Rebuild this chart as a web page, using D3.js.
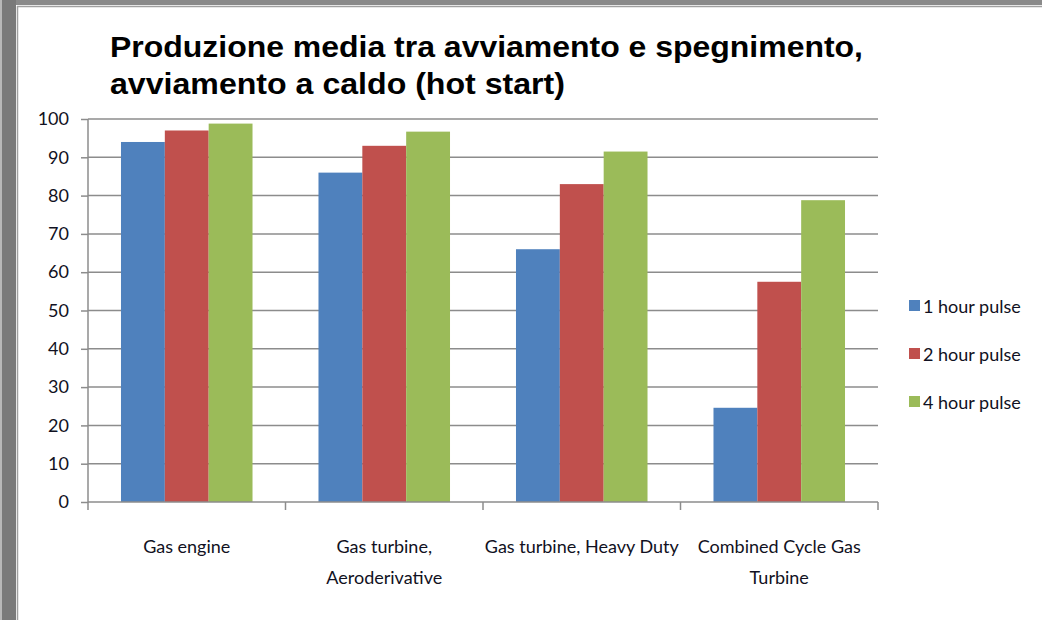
<!DOCTYPE html>
<meta charset="utf-8">
<script src="https://d3js.org/d3.v7.min.js"></script>
<style>
  body { margin: 0; background: #fff; }
</style>
<div id="chart"></div>
<script>

  // data
  var categories = ["Gas engine", "Gas turbine, Aeroderivative", "Gas turbine, Heavy Duty", "Combined Cycle Gas Turbine"];
  var seriesNames = ["1 hour pulse", "2 hour pulse", "4 hour pulse"];
  var pulse1 = [94, 86, 66, 24.6];
  var pulse2 = [97, 93, 83, 57.5];
  var pulse3 = [98.8, 96.7, 91.5, 78.8];
  var yTicks = [0, 10, 20, 30, 40, 50, 60, 70, 80, 90, 100];
  var colors = ["#4f81bd", "#c0504d", "#9bbb59"];

  var series = [pulse1, pulse2, pulse3];

  var W = 1042, H = 620;
  var margin = {top: 119, right: 164, bottom: 118, left: 88},
      width = W - margin.left - margin.right,
      height = H - margin.top - margin.bottom;

  var svg = d3.select("#chart")
    .append("svg")
      .attr("width", W)
      .attr("height", H);

  // window frame of the screenshot
  svg.append("rect").attr("x", 0).attr("y", 0).attr("width", W).attr("height", 5).attr("fill", "#8a8a8a");
  svg.append("rect").attr("x", 0).attr("y", 0).attr("width", 16).attr("height", H).attr("fill", "#7a7a7a");
  svg.append("rect").attr("x", 0).attr("y", 0).attr("width", 2).attr("height", H).attr("fill", "#b8b8b8");
  svg.append("line").attr("x1", 17.5).attr("x2", 17.5).attr("y1", 6).attr("y2", H)
    .attr("stroke", "#a0a0a0").attr("stroke-width", 1.5);
  svg.append("line").attr("x1", 17).attr("x2", W).attr("y1", 6.5).attr("y2", 6.5)
    .attr("stroke", "#a0a0a0").attr("stroke-width", 1.5);

  // title (narrow bold Arial look)
  var title = svg.append("text")
    .style("font-family", "'Liberation Sans', Arial, sans-serif")
    .style("font-weight", "bold")
    .style("font-size", "30px")
    .attr("fill", "#000");
  title.append("tspan").attr("x", 110).attr("y", 57)
    .attr("textLength", 753).attr("lengthAdjust", "spacingAndGlyphs")
    .text("Produzione media tra avviamento e spegnimento,");
  title.append("tspan").attr("x", 110).attr("y", 94)
    .attr("textLength", 455).attr("lengthAdjust", "spacingAndGlyphs")
    .text("avviamento a caldo (hot start)");

  var g = svg.append("g")
    .attr("transform", "translate(" + margin.left + "," + margin.top + ")");

  // scales
  var x0 = d3.scaleBand()
    .domain(categories)
    .range([0, width])
    .paddingInner(0)
    .paddingOuter(0);

  var x1 = d3.scaleBand()
    .domain(d3.range(series.length))
    .range([x0.bandwidth() * 0.167, x0.bandwidth() * 0.833]);

  var y = d3.scaleLinear()
    .domain([0, 100])
    .range([height, 0]);

  // gridlines
  g.append("g")
    .selectAll("line")
    .data(yTicks.filter(function(d) { return d > 0; }))
    .enter().append("line")
      .attr("x1", 0)
      .attr("x2", width)
      .attr("y1", function(d) { return y(d); })
      .attr("y2", function(d) { return y(d); })
      .attr("stroke", "#8c8c8c")
      .attr("stroke-width", 1.5);

  // bars
  var groups = g.selectAll(".cat")
    .data(categories)
    .enter().append("g")
      .attr("class", "cat")
      .attr("transform", function(d) { return "translate(" + x0(d) + ",0)"; });

  groups.selectAll("rect")
    .data(function(d, i) { return series.map(function(s, k) { return {k: k, v: s[i]}; }); })
    .enter().append("rect")
      .attr("x", function(d) { return x1(d.k); })
      .attr("y", function(d) { return y(d.v); })
      .attr("width", x1.bandwidth())
      .attr("height", function(d) { return height - y(d.v); })
      .attr("fill", function(d) { return colors[d.k]; });

  // y axis
  var yAxis = g.append("g")
    .call(d3.axisLeft(y).tickValues(yTicks).tickSize(7).tickPadding(12));
  yAxis.select(".domain").attr("stroke", "#8c8c8c").attr("stroke-width", 1.5)
    .attr("d", "M0," + height + "V0");
  yAxis.selectAll(".tick line").attr("stroke", "#8c8c8c").attr("stroke-width", 1.5);
  yAxis.selectAll(".tick text")
    .attr("fill", "#111122")
    .style("font-family", "Lato, 'Open Sans', sans-serif")
    .style("font-size", "18px");

  // x axis: ticks at category boundaries
  var xAxisG = g.append("g").attr("transform", "translate(0," + height + ")");
  xAxisG.append("line")
    .attr("x1", 0).attr("x2", width)
    .attr("stroke", "#8c8c8c").attr("stroke-width", 1.5);
  xAxisG.selectAll(".bnd")
    .data(categories.concat(["end"]))
    .enter().append("line")
      .attr("x1", function(d, i) { return i < categories.length ? x0(d) : width; })
      .attr("x2", function(d, i) { return i < categories.length ? x0(d) : width; })
      .attr("y1", 0).attr("y2", 8)
      .attr("stroke", "#8c8c8c").attr("stroke-width", 1.5);

  var labels = xAxisG.selectAll(".lbl")
    .data(categories)
    .enter().append("text")
      .attr("class", "lbl")
      .attr("text-anchor", "middle")
      .attr("fill", "#111122")
      .style("font-family", "Lato, 'Open Sans', sans-serif")
      .style("font-size", "18px")
      .attr("x", function(d) { return x0(d) + x0.bandwidth() / 2; })
      .attr("y", 51);

  // wrap the category names like Excel does
  labels.each(function(d) {
    var t = d3.select(this), words = d.split(" "), line = [], lines = [];
    var probe = t.append("tspan");
    words.forEach(function(w) {
      line.push(w);
      probe.text(line.join(" "));
      if (probe.node().getComputedTextLength() > x0.bandwidth() && line.length > 1) {
        line.pop();
        lines.push(line.join(" "));
        line = [w];
      }
    });
    lines.push(line.join(" "));
    probe.remove();
    lines.forEach(function(l, i) {
      t.append("tspan")
        .attr("x", x0(d) + x0.bandwidth() / 2)
        .attr("dy", i === 0 ? 0 : 31)
        .text(l);
    });
  });

  // legend
  var legend = svg.append("g")
    .attr("transform", "translate(909,0)");
  var items = legend.selectAll("g")
    .data(seriesNames)
    .enter().append("g")
      .attr("transform", function(d, i) { return "translate(0," + (300 + i * 48) + ")"; });
  items.append("rect")
    .attr("width", 11).attr("height", 11)
    .attr("fill", function(d, i) { return colors[i]; });
  items.append("text")
    .attr("x", 14)
    .attr("y", 13)
    .attr("fill", "#111122")
    .style("font-family", "Lato, 'Open Sans', sans-serif")
    .style("font-size", "18px")
    .text(function(d) { return d; });

</script>
